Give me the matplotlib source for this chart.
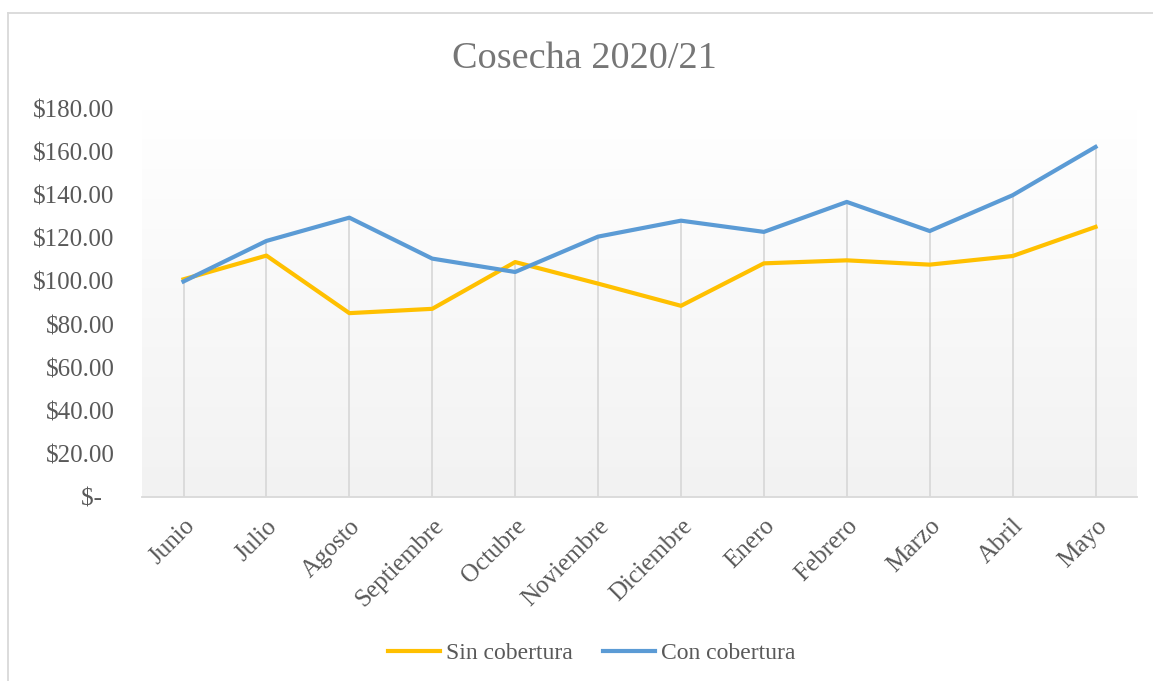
import matplotlib.pyplot as plt
import numpy as np
from matplotlib.colors import LinearSegmentedColormap
from matplotlib.lines import Line2D

plt.rcParams['font.family'] = ['Liberation Serif', 'DejaVu Serif']

meses = ['Junio', 'Julio', 'Agosto', 'Septiembre', 'Octubre', 'Noviembre',
         'Diciembre', 'Enero', 'Febrero', 'Marzo', 'Abril', 'Mayo']
sin_cobertura = [101.0, 112.0, 85.3, 87.3, 109.0, 99.0, 88.7, 108.4, 109.8, 107.8, 111.8, 125.3]
con_cobertura = [100.0, 118.8, 129.6, 110.6, 104.4, 120.8, 128.2, 123.0, 136.9, 123.4, 140.0, 162.4]
y_ticks = [0, 20, 40, 60, 80, 100, 120, 140, 160, 180]

gris = '#595959'
x = np.arange(len(meses))

fig = plt.figure(figsize=(11.53, 6.81), dpi=100)
ax = fig.add_axes([0.1232, 0.2702, 0.8629, 0.5697])

# degradado del area de trazado (blanco arriba, gris claro abajo)
grad = np.linspace(1.0, 0.0, 256).reshape(-1, 1)
fondo = LinearSegmentedColormap.from_list('fondo', ['#f2f2f2', '#ffffff'])
ax.imshow(grad, cmap=fondo, aspect='auto', extent=[-0.5, len(meses) - 0.5, 0, 180],
          zorder=0, vmin=0, vmax=1)

# lineas de caida hasta el maximo de las dos series
tope = np.maximum(sin_cobertura, con_cobertura)
ax.vlines(x, 0, tope, color='#d9d9d9', linewidth=1.3, zorder=1)

ax.plot(x, sin_cobertura, color='#FFC000', linewidth=3, label='Sin cobertura', zorder=3)
ax.plot(x, con_cobertura, color='#5B9BD5', linewidth=3, label='Con cobertura', zorder=3)

ax.set_xlim(-0.5, len(meses) - 0.5)
ax.set_ylim(0, 180)
ax.set_yticks(y_ticks)
ax.set_yticklabels(['$-  ' if v == 0 else f'${v:.2f}' for v in y_ticks])
ax.set_xticks(x)
ax.set_xticklabels(meses, rotation=45, ha='right', rotation_mode='anchor')

for s in ['top', 'right', 'left']:
    ax.spines[s].set_visible(False)
ax.spines['bottom'].set_color('#d9d9d9')
ax.spines['bottom'].set_linewidth(1.3)
ax.tick_params(axis='both', length=0, labelsize=18, labelcolor=gris)
ax.tick_params(axis='y', pad=20)
ax.tick_params(axis='x', pad=13)

fig.text(0.507, 0.914, 'Cosecha 2020/21', ha='center', va='center', fontsize=27.5, color='#767676')

fig.legend(loc='center', bbox_to_anchor=(0.513, 0.041), ncol=2, frameon=False,
           fontsize=17, labelcolor=gris, handlelength=2.2, handletextpad=0.25,
           columnspacing=1.3)

# borde del grafico
fig.add_artist(Line2D([0.007, 0.007], [0, 0.981], color='#d9d9d9', linewidth=1.3))
fig.add_artist(Line2D([0.007, 1.0], [0.981, 0.981], color='#d9d9d9', linewidth=1.3))

fig.savefig('out.png', dpi=100)
